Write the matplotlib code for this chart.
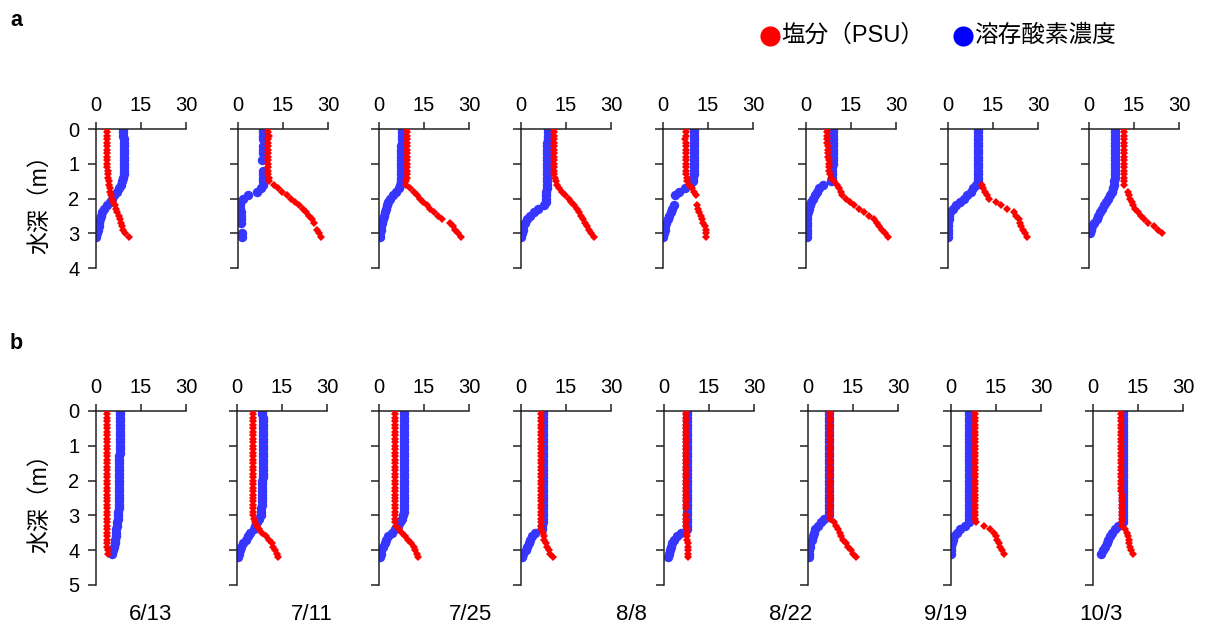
import matplotlib

matplotlib.use("Agg")
import matplotlib.pyplot as plt
import numpy as np
from matplotlib.lines import Line2D

# depth grids (m)
DEPTH_A = [0.0, 0.1, 0.2, 0.3, 0.4, 0.5, 0.6, 0.7, 0.8, 0.9,
           1.0, 1.1, 1.2, 1.3, 1.4, 1.5, 1.6, 1.7, 1.8, 1.9,
           2.0, 2.1, 2.2, 2.3, 2.4, 2.5, 2.6, 2.7, 2.8, 2.9,
           3.0, 3.1]
DEPTH_B = [0.0, 0.1, 0.2, 0.3, 0.4, 0.5, 0.6, 0.7, 0.8, 0.9,
           1.0, 1.1, 1.2, 1.3, 1.4, 1.5, 1.6, 1.7, 1.8, 1.9,
           2.0, 2.1, 2.2, 2.3, 2.4, 2.5, 2.6, 2.7, 2.8, 2.9,
           3.0, 3.1, 3.2, 3.3, 3.4, 3.5, 3.6, 3.7, 3.8, 3.9,
           4.0, 4.1, 4.2]

DATES = ["6/13", "7/11", "7/25", "8/8", "8/22", "9/19", "10/3"]

# row a: salinity (PSU)
SAL_A = [
    [3.5, 3.5, 3.5, 3.5, 3.5, 3.5, 3.6, 3.6, 3.6, 3.7, 3.7, 3.8, 3.9, 4.0, 4.1, 4.2, 4.4, 4.6, 4.8, 5.1,
     5.4, 5.8, 6.2, 6.6, 7.1, 7.6, 8.0, 8.4, 8.7, 9.1, 9.6, 11.0],
    [10.1, 10.1, 10.2, 10.1, 10.1, 10.1, 10.0, 10.1, 10.1, 10.1, 10.1, 10.1, 10.0, 10.1, 10.2, 10.3, 12.0, 13.4, 14.8, 16.2,
     17.6, 19.0, 20.3, 21.6, 22.6, 23.7, 24.6, 25.3, None, 26.2, 26.9, 27.6],
    [9.4, 9.4, 9.4, 9.4, 9.4, 9.4, 9.3, 9.4, 9.4, 9.3, 9.3, 9.3, 9.3, 9.2, 9.2, 9.1, 9.0, 10.2, 11.5, 12.6,
     13.7, 14.8, 16.0, 17.1, 18.2, 19.6, 21.0, 23.8, 24.5, 25.2, 26.3, 27.4],
    [11.1, 11.1, 11.1, 11.0, 11.1, 11.1, 11.1, 11.0, 11.1, 11.1, 11.1, 11.1, 11.0, 11.1, 11.3, 11.5, 12.0, 12.8, 13.7, 14.8,
     16.0, 16.8, 17.6, 18.5, 19.3, 20.0, 20.8, 21.3, 21.9, 22.6, 23.3, 24.4],
    [7.5, 7.5, 7.5, 7.4, 7.5, 7.5, 7.5, 7.6, 7.5, 7.5, 7.5, 7.6, 7.6, 7.7, 7.9, 8.1, 8.8, 9.6, 10.2, 10.9,
     None, None, 11.2, 11.6, 12.1, 12.5, 12.9, 13.4, 14.0, 14.2, 14.4, 14.4],
    [6.9, 6.9, 7.0, 7.0, 7.1, 7.3, 7.3, 7.4, 7.4, 7.5, 7.6, 7.7, 7.8, 8.0, 8.4, 9.3, 10.2, 11.0, 11.6, 12.1,
     13.3, 14.6, 16.0, 17.7, 19.4, 21.1, 22.8, 23.6, 24.5, 25.3, 26.2, 27.3],
    [None, None, None, None, None, None, None, None, None, None, None, None, None, None, None, None, 11.2, 11.8, 12.3, 12.9,
     13.7, 16.0, 17.6, 19.7, 21.9, 22.7, 23.5, 24.0, 24.4, 25.0, 25.7, 26.4],
    [11.7, 11.7, 11.7, 11.6, 11.7, 11.7, 11.7, 11.8, 11.7, 11.7, 11.7, 11.7, 11.6, 11.7, 11.7, 11.7, 11.7, None, 13.0, 13.4,
     13.8, 14.2, 14.6, 15.4, 16.2, 17.2, 18.2, 19.8, 21.6, 23.0, 24.4, None],
]
# row a: dissolved oxygen
DO_A = [
    [9.0, 9.1, 9.1, 9.2, 9.2, 9.2, 9.3, 9.3, 9.3, 9.3, 9.3, 9.3, 9.2, 9.2, 9.1, 8.8, 8.4, 7.6, 6.9, 6.1,
     5.4, 4.6, 3.7, 2.6, 2.1, 1.7, 1.4, 1.1, 0.9, 0.6, 0.3, 0.1],
    [8.3, 8.3, 8.3, 8.3, None, 8.3, 8.2, 8.2, None, 8.1, None, None, 8.2, 8.3, 8.3, 8.3, 8.2, 7.8, 6.2, 3.4,
     1.6, 0.8, 0.6, 0.8, 1.0, 1.1, 1.1, 1.1, None, None, 1.2, 1.2],
    [7.5, 7.5, 7.5, 7.5, 7.5, 7.4, 7.4, 7.4, 7.4, 7.4, 7.4, 7.3, 7.3, 7.3, 7.2, 7.2, 7.0, 6.5, 5.8, 4.7,
     3.6, 3.0, 2.5, 2.2, 1.9, 1.6, 1.3, 1.0, 0.8, 0.6, 0.4, 0.2],
    [8.9, 8.9, 8.9, 8.9, 8.8, 8.8, 8.8, 8.8, 8.7, 8.7, 8.7, 8.6, 8.6, 8.6, 8.6, 8.6, 8.5, 8.5, 8.4, 8.4,
     8.4, 8.2, 7.5, 5.8, 4.2, 3.0, 1.9, 1.3, 0.8, 0.5, 0.2, 0.0],
    [10.3, 10.3, 10.3, 10.3, 10.3, 10.3, 10.3, 10.3, 10.3, 10.3, 10.3, 10.3, 10.3, 10.2, 10.1, 9.9, 9.0, 7.3, 5.2, 3.9,
     None, None, 3.6, 3.0, 2.5, 2.0, 1.5, 1.1, 0.8, 0.5, 0.2, 0.0],
    [9.0, 9.0, 9.0, 9.0, 9.0, 8.9, 8.9, 8.9, 8.9, 8.9, 8.9, 8.8, 8.8, 8.8, 8.6, 8.2, 5.7, 4.3, 3.5, 2.9,
     2.4, 1.8, 1.2, 0.9, 0.6, 0.4, 0.3, 0.2, 0.2, 0.2, 0.2, 0.2],
    [10.0, 10.0, 10.0, 10.0, 10.0, 10.0, 10.0, 10.0, 10.0, 10.0, 10.0, 10.0, 10.0, 10.0, 10.0, 10.0, 9.2, 8.4, 7.5, 6.4,
     5.3, 3.9, 2.5, 1.5, 0.8, 0.4, 0.2, 0.1, 0.1, 0.1, 0.1, 0.0],
    [8.7, 8.7, 8.7, 8.7, 8.7, 8.7, 8.7, 8.7, 8.6, 8.6, 8.6, 8.6, 8.5, 8.5, 8.5, 8.4, 8.4, 8.0, 7.5, 7.0,
     6.4, 5.6, 4.9, 4.2, 3.6, 3.0, 2.5, 1.8, 1.1, 0.6, 0.2, None],
]

# row b: salinity (PSU)
SAL_B = [
    [3.5, 3.5, 3.6, 3.5, 3.5, 3.5, 3.6, 3.6, 3.5, 3.5, 3.6, 3.6, 3.5, 3.5, 3.6, 3.6, 3.6, 3.5, 3.6, 3.6,
     3.6, 3.6, 3.6, 3.6, 3.7, 3.6, 3.6, 3.7, 3.7, 3.7, 3.7, 3.7, 3.7, 3.7, 3.8, 3.8, 3.7, 3.8, 3.8, 3.8,
     3.9, 3.9, None],
    [5.3, 5.3, 5.2, 5.3, 5.3, 5.3, 5.2, 5.3, 5.3, 5.3, 5.3, 5.2, 5.3, 5.3, 5.3, 5.3, 5.2, 5.3, 5.3, 5.3,
     5.3, 5.3, 5.3, 5.2, 5.3, 5.3, 5.3, 5.3, 5.4, 5.4, 5.4, 5.6, 5.9, 6.5, 7.3, 8.4, 9.6, 10.7, 11.5, 12.1,
     12.7, 13.3, 13.6],
    [5.3, 5.3, 5.3, 5.2, 5.3, 5.3, 5.3, 5.3, 5.2, 5.3, 5.3, 5.3, 5.3, 5.3, 5.2, 5.3, 5.3, 5.3, 5.3, 5.3,
     5.2, 5.3, 5.3, 5.3, 5.3, 5.3, 5.3, 5.2, 5.3, 5.3, 5.4, 5.4, 5.4, 5.8, 6.5, 7.5, 8.6, 9.8, 10.7, 11.5,
     12.0, 12.6, 13.1],
    [6.7, 6.7, 6.7, 6.6, 6.7, 6.7, 6.7, 6.7, 6.6, 6.7, 6.7, 6.7, 6.7, 6.7, 6.6, 6.7, 6.7, 6.7, 6.7, 6.7,
     6.6, 6.7, 6.7, 6.7, 6.7, 6.7, 6.6, 6.7, 6.7, 6.7, 6.7, 6.7, 6.7, 6.8, 6.8, 7.3, 7.5, 7.8, 8.2, 8.7,
     9.2, 9.8, 10.6],
    [7.3, 7.3, 7.3, 7.2, 7.3, 7.3, 7.3, 7.3, 7.2, 7.3, 7.3, 7.3, 7.3, 7.3, 7.2, 7.3, 7.3, 7.3, 7.3, 7.3,
     7.2, 7.3, 7.3, 7.3, 7.3, 7.3, 7.3, 7.3, 7.3, None, 7.3, 7.3, 7.3, 7.4, 7.5, 7.8, 7.8, 7.8, 7.9, 7.9,
     7.9, 7.9, 7.9],
    [7.3, 7.3, 7.3, 7.3, 7.3, 7.3, 7.3, 7.3, 7.3, 7.3, 7.3, 7.3, 7.3, 7.3, 7.3, 7.3, 7.3, 7.3, 7.3, 7.3,
     7.3, 7.3, 7.3, 7.3, 7.3, 7.3, 7.3, 7.3, 7.3, 7.3, 7.3, 7.4, 8.7, 9.4, 10.0, 10.6, 11.1, 11.8, 12.6, 13.4,
     14.3, 15.1, 16.0],
    [8.1, 8.1, 8.1, 8.1, 8.1, 8.1, 8.1, 8.1, 8.1, 8.1, 8.1, 8.1, 8.1, 8.1, 8.1, 8.1, 8.1, 8.1, 8.1, 8.1,
     8.1, 8.1, 8.1, 8.1, 8.1, 8.1, 8.1, 8.1, 8.1, 8.1, 8.1, 8.1, 8.2, 10.9, 13.1, 14.3, 14.9, 15.4, 15.9, 16.3,
     17.0, 17.6, None],
    [9.2, 9.2, 9.2, 9.2, 9.2, 9.2, 9.3, 9.3, 9.3, 9.3, 9.3, 9.3, 9.3, 9.3, 9.3, 9.3, 9.3, 9.4, 9.4, 9.4,
     9.4, 9.4, 9.4, 9.4, 9.5, 9.5, 9.5, 9.5, 9.5, 9.5, 9.5, 9.6, 9.6, 9.6, 10.7, 11.2, 11.6, 11.9, 12.1, 12.4,
     12.7, 13.3, None],
]
# row b: dissolved oxygen
DO_B = [
    [7.9, 7.9, 7.9, 7.9, 7.9, 7.9, 7.9, 7.9, 7.9, 7.9, 7.9, 7.9, 7.9, 7.8, 7.8, 7.8, 7.8, 7.8, 7.8, 7.8,
     7.7, 7.7, 7.7, 7.7, 7.6, 7.6, 7.6, 7.5, 7.5, 7.4, 7.3, 7.2, 7.1, 6.9, 6.8, 6.7, 6.5, 6.3, 6.2, 5.9,
     5.7, 5.3, None],
    [8.4, 8.4, 8.5, 8.5, 8.5, 8.5, 8.5, 8.5, 8.5, 8.5, 8.6, 8.6, 8.6, 8.6, 8.6, 8.6, 8.6, 8.5, 8.5, 8.5,
     8.4, 8.4, 8.4, 8.4, 8.3, 8.3, 8.3, 8.2, 8.1, 8.0, 7.9, 7.4, 6.7, 6.1, 5.6, 4.3, 3.6, 3.1, 2.0, 1.4,
     0.9, 0.5, 0.2],
    [8.3, 8.3, 8.3, 8.3, 8.3, 8.3, 8.3, 8.3, 8.3, 8.3, 8.3, 8.3, 8.3, 8.3, 8.3, 8.3, 8.3, 8.3, 8.3, 8.3,
     8.3, 8.3, 8.3, 8.3, 8.3, 8.3, 8.3, 8.3, 8.3, 8.3, 8.1, 7.7, 7.0, 6.2, 5.3, 4.2, 3.0, 2.4, 1.9, 1.4,
     0.8, 0.5, 0.2],
    [7.2, 7.2, 7.2, 7.2, 7.2, 7.2, 7.2, 7.2, 7.2, 7.2, 7.2, 7.2, 7.2, 7.2, 7.2, 7.2, 7.2, 7.2, 7.2, 7.2,
     7.2, 7.2, 7.2, 7.2, 7.2, 7.2, 7.2, 7.2, 7.2, 7.2, 7.2, 7.2, 7.2, 7.1, 7.0, 4.7, 3.6, 3.0, 2.5, 2.1,
     1.7, 0.8, 0.2],
    [7.8, 7.8, 7.8, 7.8, 7.8, 7.8, 7.8, 7.8, 7.8, 7.8, 7.8, 7.8, 7.8, 7.8, 7.8, 7.8, 7.8, 7.8, 7.8, 7.8,
     7.8, 7.8, 7.8, 7.8, 7.8, 7.8, 7.8, 7.8, 7.8, 7.8, 7.8, 7.8, 7.8, 7.7, 7.6, 5.8, 4.4, 3.3, 2.5, 2.2,
     1.9, 1.6, 1.3],
    [7.0, 7.0, 7.0, 7.0, 7.0, 7.0, 7.0, 7.0, 7.0, 7.0, 7.0, 7.0, 7.0, 7.0, 7.0, 7.0, 7.0, 7.0, 7.0, 7.0,
     7.0, 7.0, 7.0, 7.0, 7.0, 7.0, 7.0, 7.0, 6.9, 6.9, 6.9, 5.5, 4.2, 3.3, 2.5, 2.0, 1.6, 1.2, 0.8, 0.6,
     0.4, 0.3, 0.2],
    [6.1, 6.1, 6.1, 6.1, 6.1, 6.1, 6.1, 6.1, 6.1, 6.1, 6.1, 6.1, 6.1, 6.1, 6.1, 6.1, 6.1, 6.1, 6.1, 6.1,
     6.1, 6.1, 6.1, 6.1, 6.1, 6.1, 6.1, 6.1, 6.1, 6.1, 6.1, 6.1, 6.0, 4.7, 3.0, 1.9, 1.0, 0.5, 0.2, 0.1,
     0.0, 0.0, None],
    [10.1, 10.1, 10.1, 10.1, 10.1, 10.1, 10.1, 10.1, 10.1, 10.1, 10.0, 10.0, 10.0, 10.0, 10.0, 10.0, 10.0, 10.0, 10.0, 10.0,
     10.0, 10.0, 10.0, 9.9, 9.9, 9.9, 9.9, 9.9, 9.9, 9.9, 9.9, 9.9, 9.9, 8.4, 7.3, 6.2, 5.6, 5.1, 4.5, 3.9,
     3.3, 2.8, None],
]

RED = "#ff0000"
BLUE = "#3636ff"
W, H = 1206, 630
LEFT_A = [96, 238, 379, 521, 663, 806, 948, 1089]
LEFT_B = [96, 237, 379, 521, 664, 808, 951, 1093]
DATE_X = [151, 312, 471, 631, 791, 946, 1101]

plt.rcParams.update({"font.family": ["Liberation Sans", "Noto Sans CJK JP"],
                     "font.size": 14})
fig = plt.figure(figsize=(W / 100, H / 100), dpi=100)


def panel(left, top, bottom, ymax, depth, sal, do, first):
    ax = fig.add_axes([left / W, 1 - bottom / H, 90 / W, (bottom - top) / H])
    ax.plot(do, depth, "o", ms=6.8, color=BLUE, mec=BLUE, mew=0, zorder=2)
    ax.plot(sal, depth, "D", ms=4.0, color=RED, mec=RED, mew=0, zorder=3)
    ax.set_xlim(0, 30)
    ax.set_ylim(ymax, 0)
    ax.set_xticks([0, 15, 30])
    ax.set_yticks(range(ymax + 1))
    ax.xaxis.tick_top()
    ax.spines["right"].set_visible(False)
    ax.spines["bottom"].set_visible(False)
    for s in ("top", "left"):
        ax.spines[s].set_linewidth(1.1)
        ax.spines[s].set_color("#222222")
    ax.tick_params(axis="x", direction="out", length=5, width=1.1, pad=5, color="#222222",
                   labelsize=14.5)
    ax.tick_params(axis="y", direction="out", length=6, width=1.1, pad=6, color="#222222",
                   labelsize=14.5)
    ax.patch.set_visible(False)
    if first:
        ax.set_ylabel("水深（m）", fontsize=16.5, labelpad=12)
    else:
        ax.set_yticklabels([])
    return ax


for i in range(8):
    sal = np.array(SAL_A[i], dtype=float)
    do = np.array(DO_A[i], dtype=float)
    panel(LEFT_A[i], 129, 268, 4, DEPTH_A, sal, do, i == 0)
for i in range(8):
    sal = np.array(SAL_B[i], dtype=float)
    do = np.array(DO_B[i], dtype=float)
    panel(LEFT_B[i], 411, 585, 5, DEPTH_B, sal, do, i == 0)

for d, x in zip(DATES, DATE_X):
    fig.text(x / W, 1 - 614 / H, d, ha="center", va="center", fontsize=16)

fig.text(16 / W, 1 - 20 / H, "a", ha="center", va="center", fontsize=15.5, fontweight="bold")
fig.text(16 / W, 1 - 344 / H, "b", ha="center", va="center", fontsize=15.5, fontweight="bold")

# legend
fig.add_artist(Line2D([770 / W], [1 - 36 / H], marker="o", ms=14.5, color="#ff0000", mew=0,
                      transform=fig.transFigure))
fig.text(781 / W, 1 - 36 / H, "塩分（PSU）", ha="left", va="center", fontsize=17)
fig.add_artist(Line2D([963 / W], [1 - 36 / H], marker="o", ms=14.5, color="#0000ff", mew=0,
                      transform=fig.transFigure))
fig.text(974 / W, 1 - 36 / H, "溶存酸素濃度", ha="left", va="center", fontsize=17)

fig.savefig("out.png", dpi=100)
